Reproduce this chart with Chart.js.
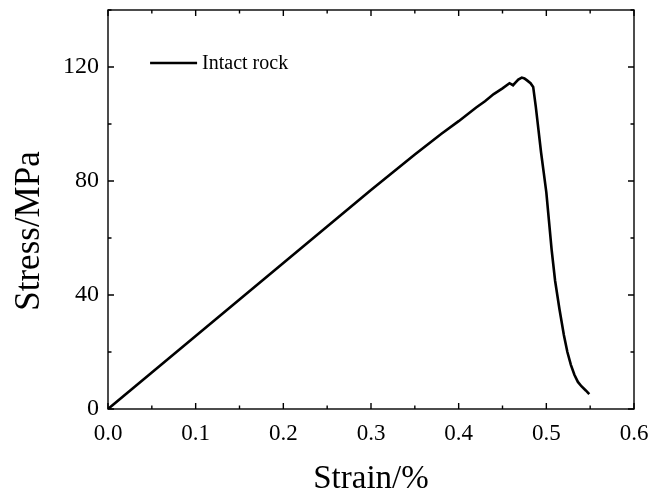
<!DOCTYPE html>
<html>
<head>
<meta charset="utf-8">
<script src="https://cdn.jsdelivr.net/npm/chart.js@4.4.1/dist/chart.umd.min.js"></script>
<style>
  html, body { margin: 0; padding: 0; background: #fff; }
  #wrap { width: 667px; height: 496px; }
</style>
</head>
<body>
<div id="wrap"><canvas id="c" width="667" height="496"></canvas></div>
<script>
// values
const strain = [0, 0.05, 0.1, 0.15, 0.2, 0.25, 0.3, 0.35, 0.38, 0.4, 0.42, 0.43, 0.44, 0.45, 0.458, 0.462, 0.465, 0.468, 0.472, 0.475, 0.478, 0.482, 0.485, 0.488, 0.491, 0.494, 0.497, 0.5, 0.503, 0.506, 0.51, 0.515, 0.52, 0.524, 0.528, 0.532, 0.536, 0.54, 0.545, 0.549];
const stress = [0, 12.8, 25.6, 38.4, 51.2, 64, 76.8, 89.3, 96.5, 101, 105.8, 108, 110.5, 112.5, 114.3, 113.6, 114.6, 115.6, 116.3, 116, 115.3, 114.3, 113, 106, 98, 90, 83, 76, 66, 56, 45, 35, 26, 20, 15.5, 12, 9.5, 8, 6.5, 5.2];
const xTicks = [0, 0.1, 0.2, 0.3, 0.4, 0.5, 0.6];
const yTicks = [0, 40, 80, 120];
const seriesName = 'Intact rock';
const yTitle = 'Stress/MPa';

const FONT = '"Liberation Serif", "Times New Roman", serif';

// inward major/minor ticks on all four sides, frame, y title and in-plot legend
const frame = {
  id: 'frame',
  afterDraw(chart) {
    const { ctx, chartArea: a, scales: { x, y } } = chart;
    ctx.save();
    ctx.strokeStyle = '#000';
    ctx.lineWidth = 1.4;
    ctx.strokeRect(a.left, a.top, a.right - a.left, a.bottom - a.top);
    const tick = (px, len, vert) => {
      ctx.beginPath();
      if (vert) {
        ctx.moveTo(px, a.bottom); ctx.lineTo(px, a.bottom - len);
        ctx.moveTo(px, a.top); ctx.lineTo(px, a.top + len);
      } else {
        ctx.moveTo(a.left, px); ctx.lineTo(a.left + len, px);
        ctx.moveTo(a.right, px); ctx.lineTo(a.right - len, px);
      }
      ctx.stroke();
    };
    xTicks.forEach((v, i) => {
      tick(x.getPixelForValue(v), 6, true);
      if (i < xTicks.length - 1) tick(x.getPixelForValue((v + xTicks[i + 1]) / 2), 3.5, true);
    });
    const yAll = yTicks.concat([160]);
    yAll.forEach((v, i) => {
      if (v <= 140) tick(y.getPixelForValue(v), 6, false);
      if (i < yAll.length - 1) {
        const m = (v + yAll[i + 1]) / 2;
        if (m <= 140) tick(y.getPixelForValue(m), 3.5, false);
      }
    });
    // y title (sits a bit below the axis centre in the original)
    ctx.fillStyle = '#000';
    ctx.save();
    ctx.translate(30, 231);
    ctx.rotate(-Math.PI / 2);
    ctx.font = '35px ' + FONT;
    ctx.textAlign = 'center';
    ctx.textBaseline = 'middle';
    ctx.fillText(yTitle, 0, 0);
    ctx.restore();
    // legend
    const ds = chart.data.datasets[0];
    const lx = x.getPixelForValue(0.048), ly = y.getPixelForValue(120) - 4;
    ctx.lineWidth = 2.6;
    ctx.strokeStyle = ds.borderColor;
    ctx.beginPath(); ctx.moveTo(lx, ly); ctx.lineTo(lx + 47, ly); ctx.stroke();
    ctx.font = '20px ' + FONT;
    ctx.textBaseline = 'middle';
    ctx.fillText(ds.label, lx + 52, ly + 1);
    ctx.restore();
  }
};

new Chart(document.getElementById('c'), {
  type: 'line',
  data: {
    datasets: [{
      label: seriesName,
      data: strain.map((s, i) => ({ x: s, y: stress[i] })),
      borderColor: '#000',
      borderWidth: 2.6,
      pointRadius: 0,
      tension: 0,
      fill: false,
    }],
  },
  options: {
    responsive: false,
    animation: false,
    layout: { padding: { top: 10, right: 33, left: 0, bottom: 0 } },
    plugins: { legend: { display: false }, tooltip: { enabled: false } },
    scales: {
      x: {
        type: 'linear', min: 0, max: 0.6,
        afterBuildTicks: s => { s.ticks = xTicks.map(v => ({ value: v })); },
        afterFit: s => { s.height = 87; s.paddingLeft = 0; s.paddingRight = 0; },
        grid: { display: false },
        border: { display: false },
        ticks: { color: '#000', font: { family: FONT, size: 23 }, padding: 3, maxRotation: 0,
                 callback: v => v.toFixed(1) },
        title: { display: true, text: 'Strain/%', color: '#000', font: { family: FONT, size: 33, lineHeight: 1 }, padding: { top: 0, bottom: 0 } },
      },
      y: {
        type: 'linear', min: 0, max: 140,
        afterBuildTicks: s => { s.ticks = yTicks.map(v => ({ value: v })); },
        afterFit: s => { s.width = 108; s.paddingTop = 0; s.paddingBottom = 0; },
        grid: { display: false },
        border: { display: false },
        ticks: { color: '#000', font: { family: FONT, size: 24 }, padding: 1 },
        title: { display: false },
      },
    },
  },
  plugins: [frame],
});
</script>
</body>
</html>
